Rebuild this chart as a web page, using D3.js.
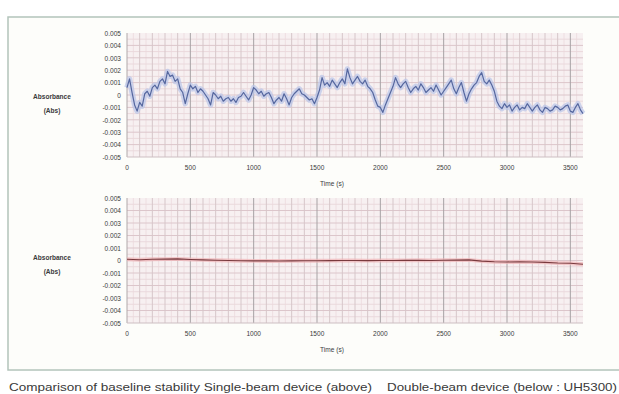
<!DOCTYPE html>
<html>
<head>
<meta charset="utf-8">
<script src="https://cdn.jsdelivr.net/npm/d3@7"></script>
<style>
  html, body { margin: 0; padding: 0; background: #fff; }
  svg { display: block; }
  text { font-family: "Liberation Sans Narrow", "Liberation Sans", Arial, sans-serif; fill: #3a3a3a; }
</style>
</head>
<body>
<div id="chart"></div>
<script>
const width = 619;
const height = 394;

// Sample spacing of the two traces (seconds)
const singleBeamStep = 20;
const doubleBeamStep = 100;

// Single-beam device, absorbance in mAbs, one value every 20 s (0..3600 s)
const singleBeamMAbs = [
  0.6, 1.3, 0.2, -0.8, -1.3, -0.6, -0.9, 0.1, 0.3, -0.1,
  0.6, 0.8, 0.5, 1.1, 1.3, 0.9, 1.9, 1.5, 1.6, 1.1,
  1.3, 0.5, 0.2, -0.7, 0.1, 0.8, 0.5, 0.7, 0.2, 0.5,
  0.3, 0.0, -0.3, -0.8, 0.2, 0.0, -0.3, -0.1, -0.5, -0.3,
  -0.2, -0.5, -0.3, -0.6, -0.2, -0.1, 0.2, -0.1, -0.4, 0.0,
  0.6, 0.4, 0.1, 0.3, -0.1, 0.1, 0.2, -0.2, -0.7, -0.4,
  -0.2, -0.5, 0.1, -0.3, -0.8, -0.2, 0.1, 0.3, 0.5, 0.1,
  0.0, -0.2, -0.4, -0.3, -0.7, -0.2, 0.4, 1.4, 0.8, 1.0,
  0.7, 1.2, 0.9, 0.6, 1.0, 1.3, 0.9, 2.1, 1.4, 0.9,
  1.2, 1.5, 1.1, 0.9, 1.2, 0.7, 0.5, 0.2, -0.4, -0.9,
  -1.0, -1.4, -0.8, -0.3, 0.2, 0.7, 1.4, 0.9, 0.6, 0.9,
  1.1, 0.6, 0.2, 0.5, 0.7, 0.4, 0.9, 0.6, 0.2, 0.4,
  0.6, 0.3, 0.8, 0.4, 0.0, 0.3, 0.6, 0.9, 1.2, 0.5,
  0.1, 0.6, 1.0, 0.2, -0.5, 0.1, 0.5, 0.8, 1.0, 1.5,
  1.8, 1.1, 0.9, 1.2, 0.8, 0.3, -0.5, -0.9, -1.1, -0.7,
  -1.0, -0.8, -1.3, -1.0, -0.8, -1.2, -1.0, -1.1, -0.7, -1.0,
  -1.3, -1.0, -0.8, -1.2, -1.4, -1.0, -1.1, -1.3, -1.2, -0.9,
  -1.0, -1.2, -1.1, -0.9, -0.8, -1.3, -1.4, -1.0, -0.7, -1.2,
  -1.5
];

// Double-beam device (UH5300), absorbance in mAbs, one value every 100 s
const doubleBeamMAbs = [
  0.10, 0.06, 0.10, 0.11, 0.13, 0.08, 0.05, 0.02, 0.00, -0.02,
  -0.03, -0.03, -0.04, -0.03, -0.02, -0.02, -0.01, 0.00, 0.00, -0.01,
  0.00, 0.00, 0.01, 0.02, 0.00, 0.02, 0.03, 0.05, -0.05, -0.10,
  -0.12, -0.10, -0.12, -0.15, -0.20, -0.22, -0.30
];

const xTicks = [0, 500, 1000, 1500, 2000, 2500, 3000, 3500];
const yTicks = [5, 4, 3, 2, 1, 0, -1, -2, -3, -4, -5];
const yTickLabels = ["0.005", "0.004", "0.003", "0.002", "0.001", "0",
  "-0.001", "-0.002", "-0.003", "-0.004", "-0.005"];

const captionLeft = "Comparison of baseline stability Single-beam device (above)";
const captionRight = "Double-beam device (below : UH5300)";

const svg = d3.select("#chart")
  .append("svg")
  .attr("width", width)
  .attr("height", height);

// Outer frame
svg.append("rect")
  .attr("x", 8)
  .attr("y", 17)
  .attr("width", 640)
  .attr("height", 353)
  .attr("fill", "#fdfdfa")
  .attr("stroke", "#b3c4bb")
  .attr("stroke-width", 1.5);

const x = d3.scaleLinear().domain([0, 3600]).range([127, 583]);

// condensed look for the small labels
const squeeze = (sel, anchorX) =>
  sel.attr("transform", `translate(${anchorX},0) scale(0.82,1) translate(${-anchorX},0)`);

const drawPanel = (top, bottom, values, step, lineColor, haloColor, haloWidth, labelY) => {
  const y = d3.scaleLinear().domain([-5, 5]).range([bottom, top]);
  const g = svg.append("g");

  // Plot background
  g.append("rect")
    .attr("x", x(0))
    .attr("y", top)
    .attr("width", x(3600) - x(0))
    .attr("height", bottom - top)
    .attr("fill", "#f7f0f1");

  // Fine vertical grid every 50 s
  g.selectAll(".vfine")
    .data(d3.range(50, 3600, 100))
    .enter().append("line")
    .attr("x1", d => x(d)).attr("x2", d => x(d))
    .attr("y1", top).attr("y2", bottom)
    .attr("stroke", "#eedee1").attr("stroke-width", 1);

  // Horizontal grid every 0.0005
  g.selectAll(".hgrid")
    .data(d3.range(-4.5, 5, 0.5))
    .enter().append("line")
    .attr("x1", x(0)).attr("x2", x(3600))
    .attr("y1", d => y(d)).attr("y2", d => y(d))
    .attr("stroke", d => Number.isInteger(d) ? "#dcc6cb" : "#ead9dc")
    .attr("stroke-width", 1);

  // Vertical grid every 100 s, darker every 500 s
  g.selectAll(".vgrid")
    .data(d3.range(100, 3600, 100))
    .enter().append("line")
    .attr("x1", d => x(d)).attr("x2", d => x(d))
    .attr("y1", top).attr("y2", bottom)
    .attr("stroke", d => d % 500 === 0 ? "#a7a2a4" : "#d6c6c9")
    .attr("stroke-width", 1);

  // Plot edges
  g.append("line")
    .attr("x1", x(0)).attr("x2", x(0))
    .attr("y1", top).attr("y2", bottom)
    .attr("stroke", "#b0a8aa");
  g.append("line")
    .attr("x1", x(0)).attr("x2", x(3600))
    .attr("y1", bottom).attr("y2", bottom)
    .attr("stroke", "#cdbfc2");

  const line = d3.line()
    .x((d, i) => x(i * step))
    .y(d => y(d));

  g.append("path")
    .datum(values)
    .attr("d", line)
    .attr("fill", "none")
    .attr("stroke", haloColor)
    .attr("stroke-width", haloWidth)
    .attr("stroke-linejoin", "round")
    .attr("opacity", 0.7);

  g.append("path")
    .datum(values)
    .attr("d", line)
    .attr("fill", "none")
    .attr("stroke", lineColor)
    .attr("stroke-width", 1.2)
    .attr("stroke-linejoin", "round");

  // Y tick labels
  g.selectAll(".ylab")
    .data(yTicks)
    .enter().append("text")
    .attr("x", 121)
    .attr("y", d => y(d) + 2.8)
    .attr("text-anchor", "end")
    .attr("font-size", "8px")
    .text((d, i) => yTickLabels[i])
    .call(squeeze, 121);

  // X tick labels
  g.selectAll(".xlab")
    .data(xTicks)
    .enter().append("text")
    .attr("x", d => x(d))
    .attr("y", bottom + 13)
    .attr("text-anchor", "middle")
    .attr("font-size", "8px")
    .text(d => d)
    .each(function (d) { squeeze(d3.select(this), x(d)); });

  g.append("text")
    .attr("x", 332)
    .attr("y", bottom + 29)
    .attr("text-anchor", "middle")
    .attr("font-size", "8px")
    .text("Time (s)")
    .call(squeeze, 332);

  // Axis title
  g.append("text")
    .attr("x", 52)
    .attr("y", labelY)
    .attr("text-anchor", "middle")
    .attr("font-size", "8px")
    .attr("font-weight", "bold")
    .attr("fill", "#222")
    .text("Absorbance")
    .call(squeeze, 52);
  g.append("text")
    .attr("x", 52)
    .attr("y", labelY + 14)
    .attr("text-anchor", "middle")
    .attr("font-size", "8px")
    .attr("font-weight", "bold")
    .attr("fill", "#222")
    .text("(Abs)")
    .call(squeeze, 52);
};

drawPanel(33, 157, singleBeamMAbs, singleBeamStep, "#55679f", "#b9c5e8", 5.5, 99);
drawPanel(198, 323, doubleBeamMAbs, doubleBeamStep, "#7a3a3e", "#f0b4b6", 4, 260);

// Caption
svg.append("text")
  .attr("x", 9)
  .attr("y", 391)
  .attr("font-size", "11px")
  .attr("fill", "#2a2a2a")
  .attr("textLength", 363)
  .attr("lengthAdjust", "spacingAndGlyphs")
  .text(captionLeft);

svg.append("text")
  .attr("x", 387)
  .attr("y", 391)
  .attr("font-size", "11px")
  .attr("fill", "#2a2a2a")
  .attr("textLength", 230)
  .attr("lengthAdjust", "spacingAndGlyphs")
  .text(captionRight);
</script>
</body>
</html>
